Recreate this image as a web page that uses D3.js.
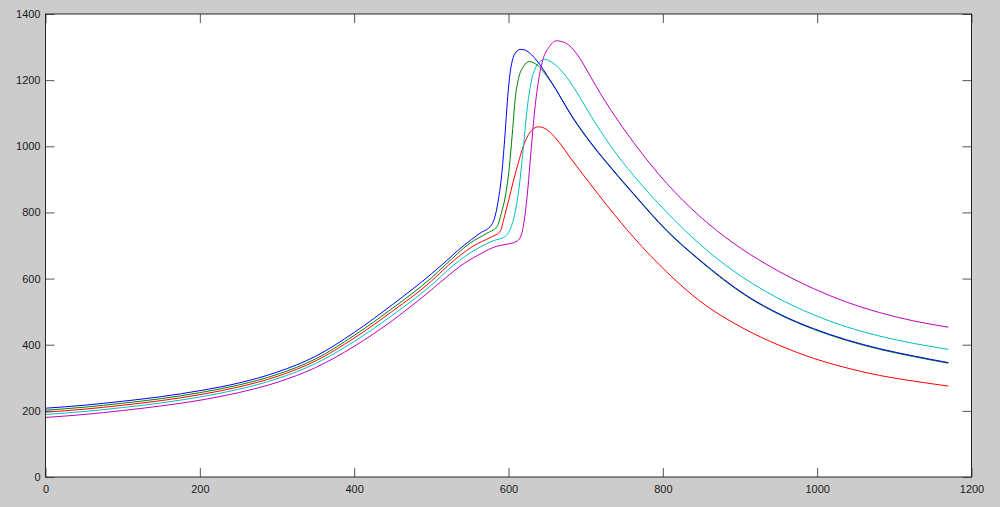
<!DOCTYPE html>
<html>
<head>
<meta charset="utf-8">
<script src="https://cdn.jsdelivr.net/npm/d3@7"></script>
<style>
  html, body { margin: 0; padding: 0; background: #cccccc; }
  svg { display: block; }
  text { font-family: "Liberation Sans", Arial, sans-serif; }
</style>
</head>
<body>
<script>
// ---- data ----
const xTicks = [0, 200, 400, 600, 800, 1000, 1200];
const yTicks = [0, 200, 400, 600, 800, 1000, 1200, 1400];

const blueX = [0, 50, 100, 150, 200, 250, 300, 350, 400, 450, 500, 513, 541, 563, 578, 583, 587, 591, 595, 599, 602, 606, 610, 615, 620, 624, 636, 654, 684, 706, 727, 762, 805, 848, 909, 952, 995, 1038, 1081, 1125, 1170];
const blueY = [208, 217, 229, 243, 261, 284, 317, 365, 437, 522, 614, 640, 698, 737, 762, 792, 840, 910, 1020, 1150, 1220, 1268, 1285, 1293, 1292, 1288, 1261, 1200, 1085, 1013, 952, 857, 746, 656, 548, 492, 449, 415, 388, 366, 346];

const greenX = [0, 50, 100, 150, 200, 250, 300, 350, 400, 450, 500, 518, 550, 572, 585, 591, 596, 601, 605, 609, 613, 619, 627, 637, 654, 684, 706, 727, 762, 805, 848, 909, 952, 995, 1038, 1081, 1125, 1170];
const greenY = [202, 211, 223, 237, 255, 278, 310, 357, 428, 511, 602, 641, 707, 737, 757, 800, 850, 935, 1040, 1150, 1205, 1240, 1256, 1246, 1198, 1083, 1011, 950, 855, 744, 654, 546, 490, 447, 413, 386, 364, 344];

const redX = [0, 50, 100, 150, 200, 250, 300, 350, 400, 450, 500, 522, 554, 576, 589, 595, 600, 606, 613, 618, 624, 630, 639, 650, 662, 684, 706, 727, 762, 805, 848, 900, 952, 995, 1038, 1081, 1125, 1170];
const redY = [196, 205, 217, 231, 249, 272, 304, 351, 420, 502, 592, 640, 698, 724, 742, 790, 835, 892, 952, 992, 1027, 1048, 1059, 1050, 1022, 953, 886, 823, 725, 620, 532, 455, 397, 359, 330, 307, 290, 275];

const cyanX = [0, 50, 100, 150, 200, 250, 300, 350, 400, 450, 500, 529, 559, 580, 596, 604, 609, 614, 619, 624, 629, 634, 640, 647, 658, 671, 688, 706, 719, 732, 762, 805, 848, 891, 945, 995, 1038, 1081, 1125, 1170];
const cyanY = [189, 198, 210, 224, 242, 265, 297, 343, 410, 490, 580, 641, 690, 714, 728, 760, 805, 880, 990, 1110, 1190, 1232, 1254, 1263, 1251, 1222, 1165, 1095, 1047, 1002, 912, 801, 704, 624, 546, 491, 454, 426, 404, 386];

const magentaX = [0, 50, 100, 150, 200, 250, 300, 350, 400, 450, 500, 520, 537, 563, 585, 598, 611, 617, 621, 625, 629, 634, 639, 645, 652, 662, 675, 688, 706, 719, 732, 762, 805, 848, 891, 935, 995, 1038, 1081, 1125, 1170];
const magentaY = [180, 189, 201, 215, 232, 255, 286, 331, 395, 474, 566, 605, 637, 674, 698, 704, 713, 735, 785, 870, 980, 1110, 1200, 1265, 1298, 1319, 1311, 1281, 1212, 1160, 1112, 1012, 888, 788, 708, 642, 570, 529, 497, 472, 453];

const seriesNames = ["green", "red", "cyan", "magenta", "blue"];
const seriesColors = ["#008000", "#ff0000", "#00bfbf", "#bf00bf", "#0000ff"];
const seriesXs = [greenX, redX, cyanX, magentaX, blueX];
const seriesYs = [greenY, redY, cyanY, magentaY, blueY];

// ---- layout ----
const W = 1000, H = 507;
const mLeft = 45.5, mRight = 971.5, mTop = 14, mBottom = 477;

const svg = d3.select("body").append("svg").attr("width", W).attr("height", H);
svg.append("rect").attr("width", W).attr("height", H).attr("fill", "#cccccc");
svg.append("rect").attr("x", mLeft).attr("y", mTop).attr("width", mRight - mLeft).attr("height", mBottom - mTop).attr("fill", "#ffffff");

const x = d3.scaleLinear().domain([0, 1200]).range([mLeft, mRight]);
const y = d3.scaleLinear().domain([0, 1400]).range([mBottom, mTop]);

const plot = svg.append("g");
const line = d3.line().x(d => x(d[0])).y(d => y(d[1])).curve(d3.curveMonotoneX);
seriesNames.forEach((name, i) => {
  const pts = seriesXs[i].map((v, j) => [v, seriesYs[i][j]]);
  plot.append("path").attr("d", line(pts)).attr("fill", "none")
    .attr("stroke", seriesColors[i]).attr("stroke-width", 1).attr("stroke-linejoin", "round");
});

// axes with inward ticks (box style)
const tickLen = 9;
const fmt = d3.format("d");
function styleAxis(g, hideText) {
  g.select(".domain").remove();
  g.selectAll(".tick line").attr("stroke", "#555555").attr("stroke-width", 1);
  g.selectAll(".tick text").attr("fill", "#1a1a1a").style("font-size", "11px")
    .style("font-family", "'Liberation Sans', Arial, sans-serif");
  if (hideText) g.selectAll(".tick text").remove();
}
svg.append("g").attr("transform", `translate(0,${mBottom})`)
  .call(d3.axisBottom(x).tickValues(xTicks).tickFormat(fmt).tickSizeInner(-tickLen).tickSizeOuter(0).tickPadding(8))
  .call(g => styleAxis(g, false));
svg.append("g").attr("transform", `translate(0,${mTop})`)
  .call(d3.axisTop(x).tickValues(xTicks).tickSizeInner(-tickLen).tickSizeOuter(0))
  .call(g => styleAxis(g, true));
svg.append("g").attr("transform", `translate(${mLeft},0)`)
  .call(d3.axisLeft(y).tickValues(yTicks).tickFormat(fmt).tickSizeInner(-tickLen).tickSizeOuter(0).tickPadding(5))
  .call(g => styleAxis(g, false));
svg.append("g").attr("transform", `translate(${mRight},0)`)
  .call(d3.axisRight(y).tickValues(yTicks).tickSizeInner(-tickLen).tickSizeOuter(0))
  .call(g => styleAxis(g, true));

// frame
svg.append("rect").attr("x", mLeft).attr("y", mTop).attr("width", mRight - mLeft).attr("height", mBottom - mTop)
  .attr("fill", "none").attr("stroke", "#262626").attr("stroke-width", 1);
</script>
</body>
</html>
